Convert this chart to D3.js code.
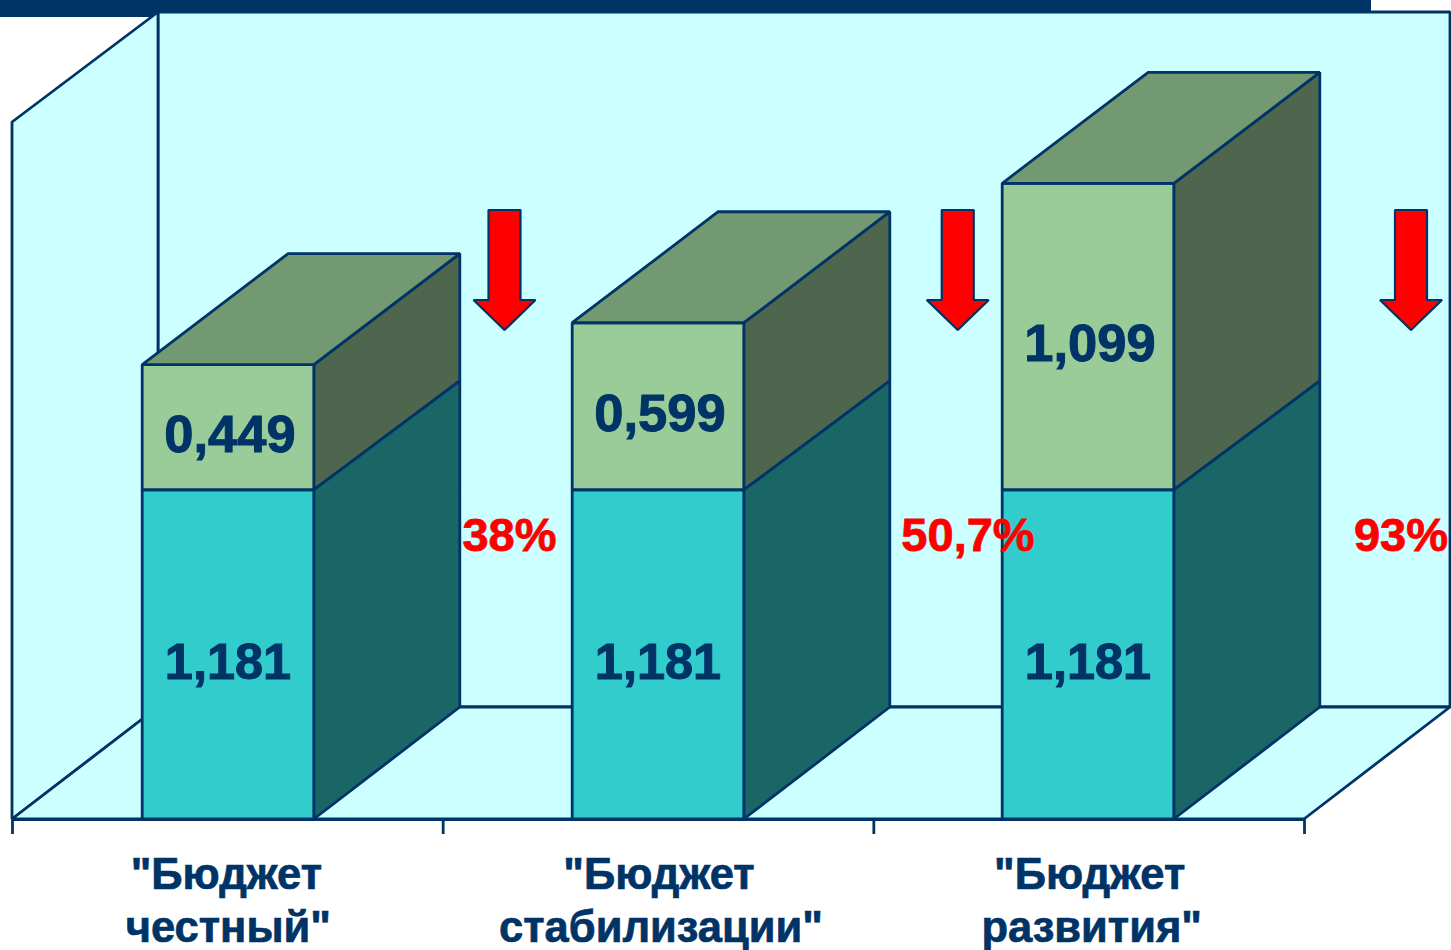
<!DOCTYPE html>
<html><head><meta charset="utf-8">
<script src="https://cdn.jsdelivr.net/npm/d3@7"></script>
<style>html,body{margin:0;padding:0;background:#fff;overflow:hidden}svg{display:block}text{font-family:"Liberation Sans",Arial,sans-serif;font-weight:700}</style>
</head><body><div id="c"></div>
<script>
const categoryLines = [['"Бюджет','честный"'],['"Бюджет','стабилизации"'],['"Бюджет','развития"']];
const baseValues = [1.181, 1.181, 1.181];
const addedValues = [0.449, 0.599, 1.099];
const percentLabels = ['38%','50,7%','93%'];
const axisMax = 2.5;

const W=1451,H=950, dx=146, dy=112, barDy=[109,111];
const C={wall:'#CCFFFF',line:'#003366',f1:'#33CCCC',s1:'#1A6666',f2:'#99CC99',t2:'#739973',s2:'#4D664D',red:'#FF0000'};
const svg=d3.select('#c').append('svg').attr('width',W).attr('height',H);
const idx=d3.range(categoryLines.length);
const x=d3.scaleBand().domain(idx).range([12,1304]);
const y=d3.scaleLinear().domain([0,axisMax]).range([819,122]);
const barW=x.bandwidth()*0.3985;
const edge=d3.scaleLinear().domain([0,3]).range(x.range());
const barX=d3.scalePoint().domain(idx).range([228,1088]);
const arrowX=d3.scalePoint().domain(idx).range([504.5,1411]);
const pctCenter=[509.5,968,1401];
const line=d3.line();
const poly=(pts,fill,sw=2.8)=>svg.append('path').attr('d',line(pts)+'Z').attr('fill',fill).attr('stroke',C.line).attr('stroke-width',sw).attr('stroke-linejoin','bevel');

// header band
svg.append('rect').attr('x',0).attr('y',0).attr('width',1371).attr('height',17).attr('fill',C.line);

// walls and floor
const [x0,x1]=x.range(), y0=y(0), yT=y(axisMax);
poly([[x0+dx,yT-dy+2],[x1+dx,yT-dy+2],[x1+dx,y0-dy],[x0+dx,y0-dy]],C.wall);
poly([[x0,yT],[x0+dx,yT-dy+2],[x0+dx,y0-dy],[x0,y0]],C.wall);
poly([[x0,y0],[x1,y0],[x1+dx,y0-dy],[x0+dx,y0-dy]],C.wall);

// axis
const axis=d3.axisBottom(edge).tickValues([0,1,2,3]).tickFormat('').tickSize(15).tickSizeOuter(0);
const ga=svg.append('g').attr('transform',`translate(0,${y0})`).call(axis);
ga.selectAll('path,line').attr('stroke',C.line).attr('stroke-width',2.8);

// stacked 3D bars
const stack=d3.stack().keys(['base','added'])(idx.map(i=>({base:baseValues[i],added:addedValues[i]})));
idx.forEach(i=>{
  const cx=barX(i), l=cx-barW/2, r=cx+barW/2;
  stack.forEach((s,k)=>{
    const a=y(s[i][0]), b=y(s[i][1]);
    const da=k?barDy[0]:dy, db=barDy[k];
    poly([[r,a],[r+dx,a-da],[r+dx,b-db],[r,b]],k?C.s2:C.s1);
    poly([[l,b],[r,b],[r,a],[l,a]],k?C.f2:C.f1);
    if(k) poly([[l,b],[r,b],[r+dx,b-db],[l+dx,b-db]],C.t2);
  });
  const fmt=v=>d3.format('.3f')(v).replace('.',',');
  stack.forEach((s,k)=>{
    svg.append('text').attr('x',cx+(k?2:0)).attr('y',(y(s[i][0])+y(s[i][1]))/2+24.5)
      .attr('text-anchor','middle').attr('font-size',k?52.5:50.5).attr('fill',C.line)
      .attr('stroke',C.line).attr('stroke-width',1)
      .text(fmt(s[i][1]-s[i][0]));
  });
});

// arrows and percentages
idx.forEach(i=>{
  const c=arrowX(i);
  poly([[c-16,210],[c+16,210],[c+16,300],[c+31,300],[c,330],[c-31,300],[c-16,300]],C.red,2.2);
});
idx.forEach(i=>{
  svg.append('text').attr('x',pctCenter[i]).attr('y',551).attr('text-anchor','middle')
    .attr('font-size',47).attr('fill',C.red).attr('stroke',C.red).attr('stroke-width',0.8).text(percentLabels[i]);
});

// category labels
idx.forEach(i=>{
  const cx=x(i)+x.bandwidth()/2;
  categoryLines[i].forEach((t,j)=>{
    svg.append('text').attr('x',cx+(j?1:-1)+(i?2:0)).attr('y',889+j*53).attr('text-anchor','middle')
      .attr('font-size',43.5).attr('fill',C.line).attr('stroke',C.line).attr('stroke-width',0.7).text(t);
  });
});
</script></body></html>
